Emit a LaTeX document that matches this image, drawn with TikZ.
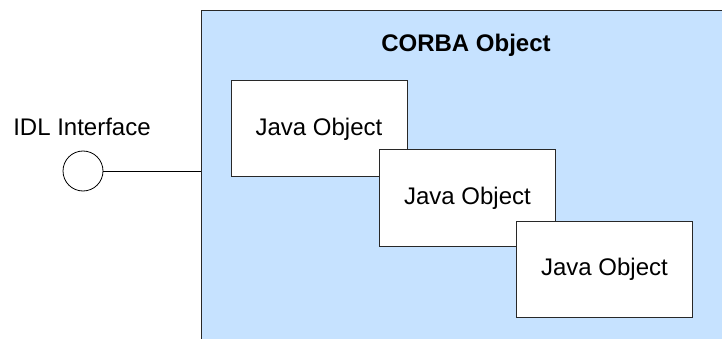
\documentclass[tikz,border=0pt]{standalone}
\usepackage{fontspec}
\setmainfont{Liberation Sans}
\definecolor{corbablue}{RGB}{198,226,255}
\definecolor{edgegray}{RGB}{40,40,40}
\begin{document}
\begin{tikzpicture}[x=1pt,y=-1pt,
  font=\fontsize{24}{28}\selectfont,
  javabox/.style={draw=edgegray,line width=1pt,fill=white,minimum width=176pt,minimum height=96pt,inner sep=0pt},
  corba/.style={draw=edgegray,line width=1.3pt,fill=corbablue,minimum width=540pt,minimum height=350pt,inner sep=0pt,anchor=north west},
  iface/.style={draw=black,line width=0.8pt,circle,minimum size=40pt,inner sep=0pt,fill=white}]
\clip (0,0) rectangle (722,339);
\node[corba] (corbabox) at (201,10) {};
\node[font=\fontsize{24}{28}\selectfont\bfseries] (title) at (466,45) {CORBA Object};
\node[javabox] (j1) at (319,129) {Java Object};
\node[javabox] (j2) at (467.5,198) {Java Object};
\node[javabox] (j3) at (604.5,269) {Java Object};
\node[iface] (idl) at (83,171) {};
\node (idllabel) at (82,127) {IDL Interface};
\draw[line width=0.8pt] (idl.east) -- (idl.east -| corbabox.west);
\end{tikzpicture}
\end{document}
